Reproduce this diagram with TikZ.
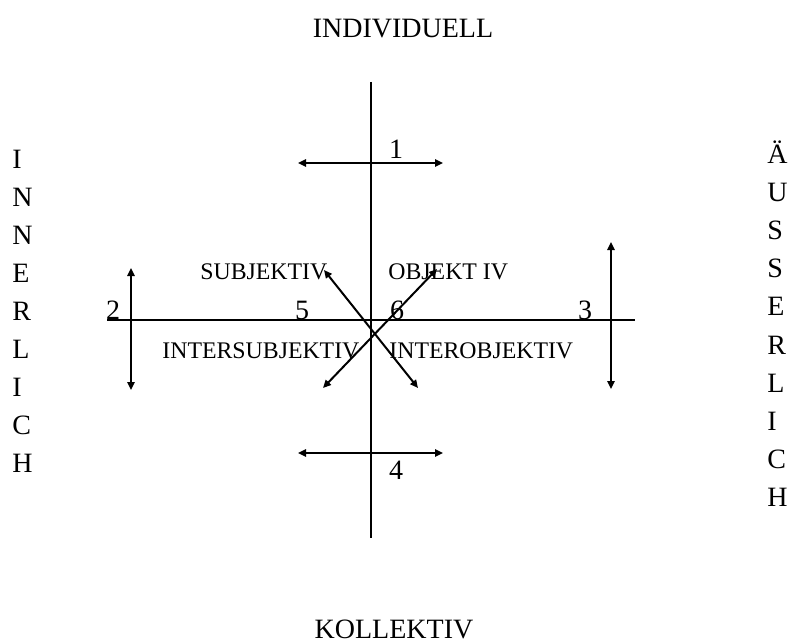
\documentclass[tikz,border=0pt]{standalone}
\usepackage{fontspec}
\setmainfont{Liberation Serif}
\usetikzlibrary{arrows.meta}

\tikzset{
  bigtext/.style={font=\fontsize{14}{16}\selectfont,inner sep=0pt},
  smalltext/.style={font=\fontsize{11.9}{14}\selectfont,inner sep=0pt},
  axisline/.style={line width=1pt},
  dblarrow/.style={line width=1pt,
    {Triangle[length=4pt,width=3.6pt]}-{Triangle[length=4pt,width=3.6pt]}}
}

\begin{document}
\begin{tikzpicture}[x=0.5pt,y=-0.5pt]
  \useasboundingbox (0,0) rectangle (790,642);
  % top and bottom titles
  \node[bigtext,anchor=base] (indiv) at (403,38) {INDIVIDUELL};
  \node[bigtext,anchor=base] (koll) at (394,638) {KOLLEKTIV};
  % side words, one letter per row
  \foreach \c [count=\i from 0] in {I,N,N,E,R,L,I,C,H}
    \node[bigtext,anchor=base west] (inner\i) at (12,{168+38*\i}) {\c};
  \foreach \c [count=\i from 0] in {Ä,U,S,S,E,R,L,I,C,H}
    \node[bigtext,anchor=base west] (outer\i) at (767,{163+38.2*\i}) {\c};
  % axes
  \coordinate (vtop) at (371,82);
  \coordinate (vbot) at (371,538);
  \coordinate (hleft) at (107,320);
  \coordinate (hright) at (635,320);
  \draw[axisline] (vtop) -- (vbot);
  \draw[axisline] (hleft) -- (hright);
  % double arrows
  \coordinate (ta) at (298,163);  \coordinate (tb) at (443,163);
  \coordinate (ba) at (298,453);  \coordinate (bb) at (443,453);
  \coordinate (la) at (131,268);  \coordinate (lb) at (131,390);
  \coordinate (ra) at (611,242);  \coordinate (rb) at (611,389);
  \coordinate (da) at (324,270);  \coordinate (db) at (418,388);
  \coordinate (ea) at (437,269);  \coordinate (eb) at (323,388);
  \draw[dblarrow] (ta) -- (tb);
  \draw[dblarrow] (ba) -- (bb);
  \draw[dblarrow] (la) -- (lb);
  \draw[dblarrow] (ra) -- (rb);
  \draw[dblarrow] (da) -- (db);
  \draw[dblarrow] (ea) -- (eb);
  % numbers
  \node[bigtext,anchor=base] (n1) at (396,158) {1};
  \node[bigtext,anchor=base] (n2) at (113,319) {2};
  \node[bigtext,anchor=base] (n3) at (585,319) {3};
  \node[bigtext,anchor=base] (n4) at (396,479) {4};
  \node[bigtext,anchor=base] (n5) at (302,319) {5};
  \node[bigtext,anchor=base] (n6) at (397,319) {6};
  % quadrant labels
  \node[smalltext,anchor=base west] (subj) at (200,279) {SUBJEKTIV};
  \node[smalltext,anchor=base west] (obj) at (388,279) {OBJEKT IV};
  \node[smalltext,anchor=base west] (isubj) at (162,358) {INTERSUBJEKTIV};
  \node[smalltext,anchor=base west] (iobj) at (389,358) {INTEROBJEKTIV};
\end{tikzpicture}
\end{document}
